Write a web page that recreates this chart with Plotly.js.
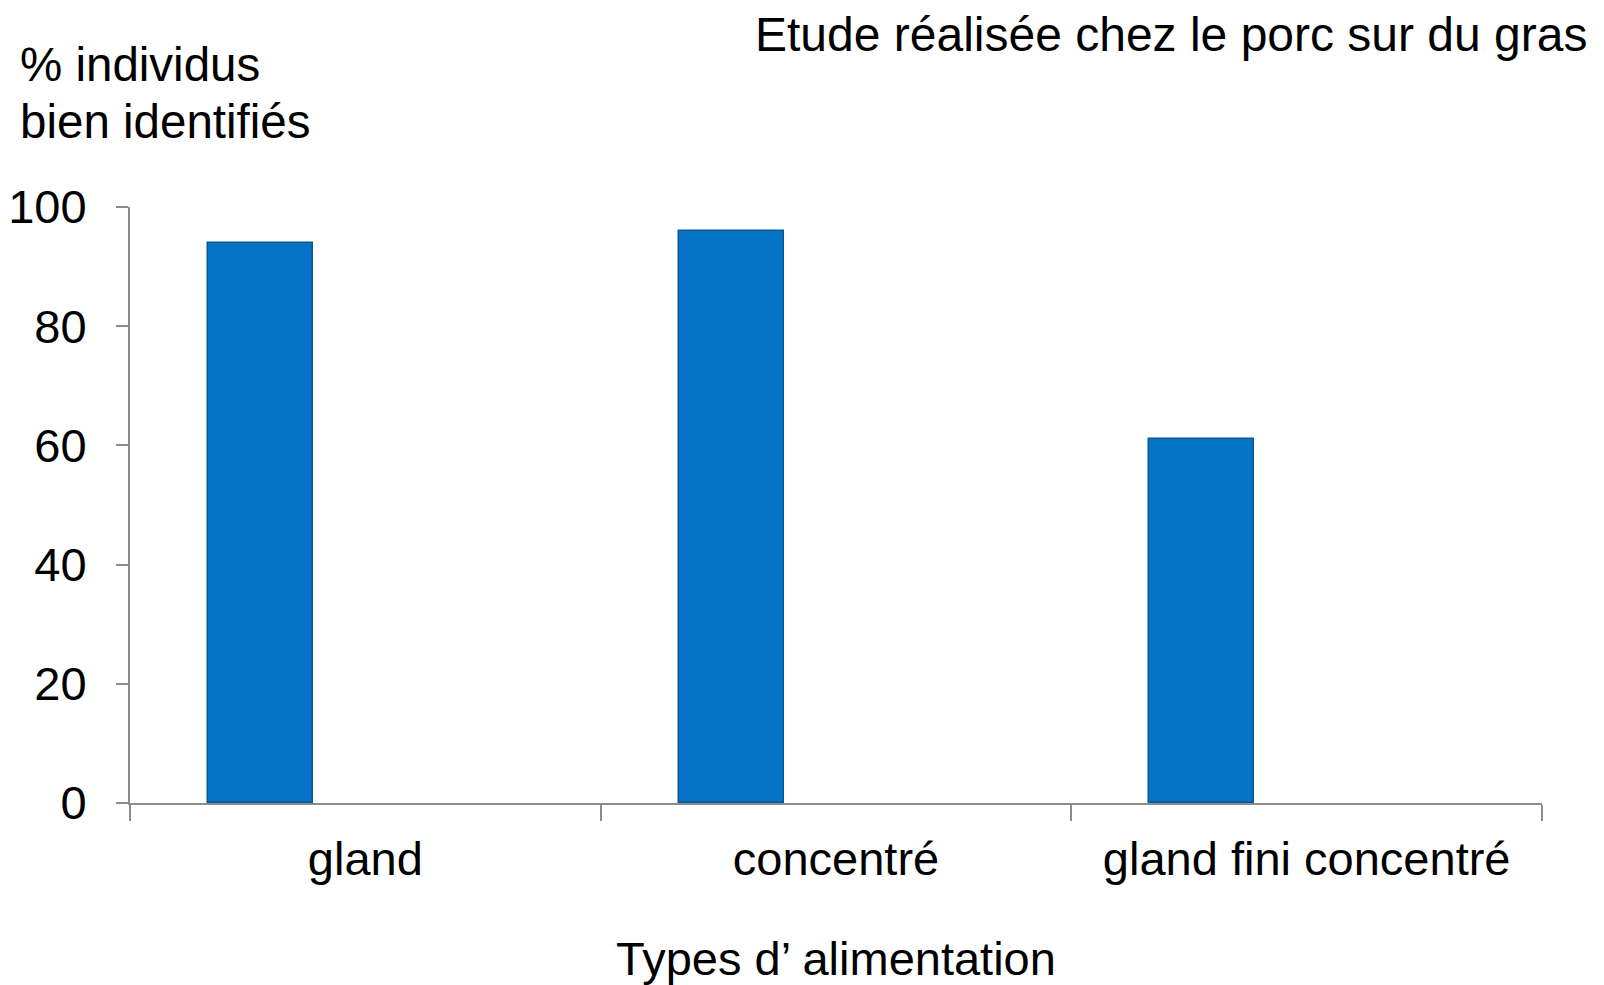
<!DOCTYPE html>
<html>
<head>
<meta charset="utf-8">
<script src="https://cdn.plot.ly/plotly-3.0.1.min.js"></script>
<style>
  html, body { margin: 0; padding: 0; background: #fff; }
  #chart { width: 1604px; height: 985px; }
</style>
</head>
<body>
<div id="chart"></div>
<script>
// Feeding types and share of correctly identified animals (%)
const categories = ["gland", "concentré", "gland fini concentré"];
const pctIdentified = [94, 96, 61];

const yTickValues = [0, 20, 40, 60, 80, 100];

const FONT = "Liberation Sans, Arial, sans-serif";
const AXIS_GREY = "#8c8c8c";

const trace = {
  type: "bar",
  x: categories,
  y: pctIdentified,
  width: 0.223,
  offset: -0.334,
  marker: {
    color: "#0673c7",
    line: { color: "#0a5896", width: 1.5 }
  },
  hoverinfo: "x+y"
};

const layout = {
  width: 1604,
  height: 985,
  paper_bgcolor: "#ffffff",
  plot_bgcolor: "#ffffff",
  margin: { l: 130, r: 62, t: 207, b: 182 },
  showlegend: false,
  font: { family: FONT, color: "#000000", size: 47 },
  bargap: 0,
  xaxis: {
    type: "category",
    range: [-0.5, 2.5],
    showline: true,
    linecolor: AXIS_GREY,
    linewidth: 2,
    ticks: "outside",
    tickson: "boundaries",
    ticklen: 16,
    tickwidth: 2,
    tickcolor: AXIS_GREY,
    ticklabelstandoff: 14,
    showgrid: false,
    zeroline: false,
    tickfont: { family: FONT, size: 47, color: "#000" },
    title: {
      text: "Types d’ alimentation",
      font: { family: FONT, size: 47, color: "#000" },
      standoff: 58
    }
  },
  yaxis: {
    range: [0, 100],
    tickvals: yTickValues,
    ticktext: yTickValues.map(String),
    showline: true,
    linecolor: AXIS_GREY,
    linewidth: 2,
    ticks: "outside",
    ticklen: 12,
    tickwidth: 2,
    tickcolor: AXIS_GREY,
    ticklabelstandoff: 20,
    showgrid: false,
    zeroline: false,
    tickfont: { family: FONT, size: 47, color: "#000" }
  },
  annotations: [
    {
      text: "Etude réalisée chez le porc sur du gras",
      xref: "paper", yref: "paper",
      x: 1.033, y: 1.0, xanchor: "right", yanchor: "bottom",
      yshift: 144,
      showarrow: false,
      font: { family: FONT, size: 48, color: "#000" }
    },
    {
      text: "% individus",
      xref: "paper", yref: "paper",
      x: -0.079, y: 1.0, xanchor: "left", yanchor: "middle",
      yshift: 143,
      showarrow: false,
      font: { family: FONT, size: 47.5, color: "#000" }
    },
    {
      text: "bien identifiés",
      xref: "paper", yref: "paper",
      x: -0.079, y: 1.0, xanchor: "left", yanchor: "middle",
      yshift: 86,
      showarrow: false,
      font: { family: FONT, size: 47.5, color: "#000" }
    }
  ]
};

Plotly.newPlot("chart", [trace], layout, { displayModeBar: false, responsive: false });
</script>
</body>
</html>
